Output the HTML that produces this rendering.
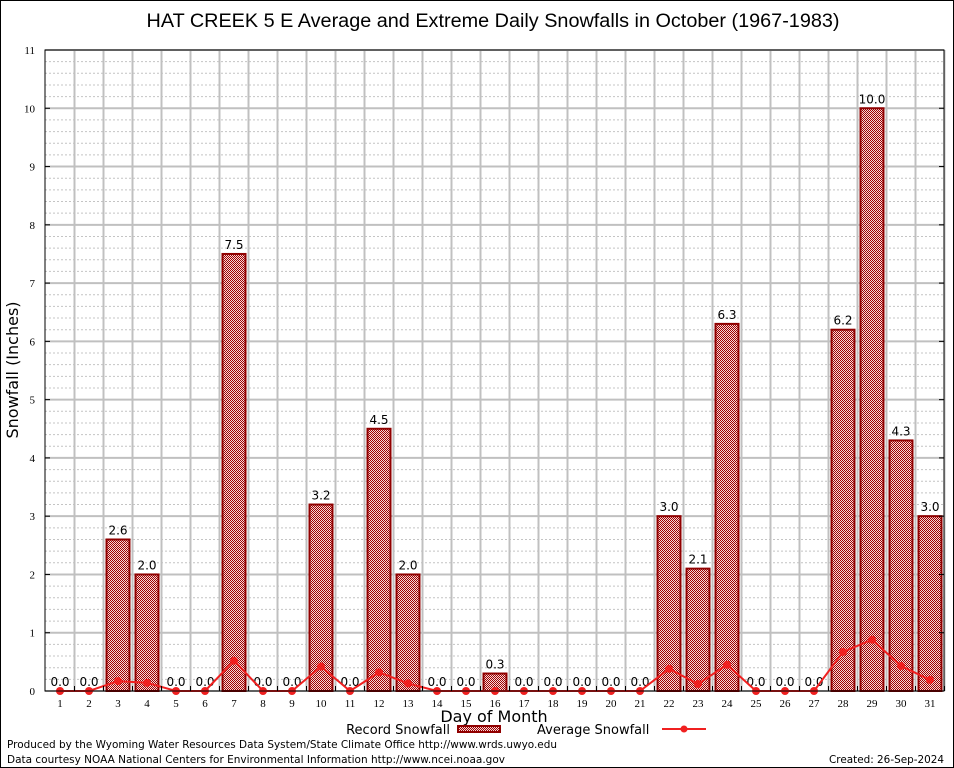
<!DOCTYPE html>
<html><head><meta charset="utf-8"><style>
body{margin:0;background:#fff}
svg{display:block;font-family:"DejaVu Sans","Liberation Sans",sans-serif}
</style></head><body>
<svg id="c" width="954" height="768" viewBox="0 0 954 768">
<defs>
<pattern id="chk" width="2" height="2" patternUnits="userSpaceOnUse">
<rect width="2" height="2" fill="#f4dada"/><rect width="1" height="1" fill="#a00000"/><rect x="1" y="1" width="1" height="1" fill="#a00000"/>
</pattern>
</defs>
<rect x="0.5" y="0.5" width="953" height="767" fill="#fff" stroke="#000"/>
<text x="493" y="27" font-size="19" text-anchor="middle" textLength="693" lengthAdjust="spacingAndGlyphs" font-family="Liberation Sans,sans-serif">HAT CREEK 5 E Average and Extreme Daily Snowfalls in October (1967-1983)</text>
<g id="grid"></g>
<g id="bars"></g>
<g id="line"></g>
<g id="axes"></g>
<text x="18" y="370" font-size="16" text-anchor="middle" transform="rotate(-90 18 370)">Snowfall (Inches)</text>
<text x="494" y="722" font-size="16" text-anchor="middle">Day of Month</text>
<g>
<text x="450" y="734" font-size="13" text-anchor="end">Record Snowfall</text>
<rect x="458" y="726" width="42" height="6" fill="url(#chk)" stroke="#900000" stroke-width="2"/>
</g>
<g>
<text x="537" y="734" font-size="13">Average Snowfall</text>
<line x1="662" y1="729" x2="706" y2="729" stroke="#f02020" stroke-width="2"/>
<circle cx="684" cy="729" r="3.5" fill="#f02020"/>
</g>
<text x="7" y="748" font-size="11" textLength="550" lengthAdjust="spacingAndGlyphs">Produced by the Wyoming Water Resources Data System/State Climate Office http://www.wrds.uwyo.edu</text>
<text x="7" y="763" font-size="11" textLength="498" lengthAdjust="spacingAndGlyphs">Data courtesy NOAA National Centers for Environmental Information http://www.ncei.noaa.gov</text>
<text x="829" y="763" font-size="11" textLength="115" lengthAdjust="spacingAndGlyphs">Created: 26-Sep-2024</text>
</svg>
<script>
const days=[1,2,3,4,5,6,7,8,9,10,11,12,13,14,15,16,17,18,19,20,21,22,23,24,25,26,27,28,29,30,31];
const recordSnow=[0,0,2.6,2.0,0,0,7.5,0,0,3.2,0,4.5,2.0,0,0,0.3,0,0,0,0,0,3.0,2.1,6.3,0,0,0,6.2,10.0,4.3,3.0];
const avgSnow=[0,0,0.17,0.14,0,0,0.52,0,0,0.42,0,0.32,0.13,0,0,0,0,0,0,0,0,0.38,0.12,0.45,0,0,0,0.67,0.88,0.43,0.19];
const yTicks=[0,1,2,3,4,5,6,7,8,9,10,11];
const NS="http://www.w3.org/2000/svg";
const L=45,R=944,T=50,B=691,YMAX=11;
const x=d=>60+(d-1)*29;
const y=v=>B-v*(B-T)/YMAX;
function mk(tag,attrs,parent,txt){const e=document.createElementNS(NS,tag);for(const k in attrs)e.setAttribute(k,attrs[k]);if(txt!==undefined)e.textContent=txt;document.getElementById(parent).appendChild(e);return e;}
for(let v=0;v<YMAX;v+=0.2){if(Math.abs(v-Math.round(v))<1e-6)continue;mk('line',{x1:L,x2:R,y1:y(v),y2:y(v),stroke:'#c4c4c4','stroke-dasharray':'2,2','stroke-width':1},'grid');}
yTicks.forEach(t=>{const g=mk('line',{x1:L,x2:R,y1:y(t),y2:y(t),stroke:'#c0c0c0','stroke-width':2},'grid');


const lb=mk('text',{x:L-10,y:y(t)+4,'font-size':11,'text-anchor':'end','font-family':'Liberation Serif,serif'},'axes',String(t));


mk('line',{x1:L,x2:L+5,y1:y(t),y2:y(t),stroke:'#000'},'axes');mk('line',{x1:R,x2:R-5,y1:y(t),y2:y(t),stroke:'#000'},'axes');});
days.forEach(d=>{mk('line',{x1:x(d)+14.5,x2:x(d)+14.5,y1:T,y2:B,stroke:'#c0c0c0','stroke-width':2},'grid');});
days.forEach((d,i)=>{const v=recordSnow[i];
if(v>0){const r=mk('rect',{x:x(d)-11.5,y:y(v),width:23,height:B-y(v),fill:'url(#chk)',stroke:'#900000','stroke-width':2},'bars');

}
const t=mk('text',{x:x(d),y:y(v)-5,'font-size':12,'text-anchor':'middle'},'bars',v.toFixed(1));


const xl=mk('text',{x:x(d),y:B+16,'font-size':11,'text-anchor':'middle','font-family':'Liberation Serif,serif'},'axes',String(d));


mk('line',{x1:x(d)+14.5,x2:x(d)+14.5,y1:B,y2:B-5,stroke:'#000'},'axes');});
const pts=days.map((d,i)=>x(d)+','+y(avgSnow[i])).join(' ');
const pl=mk('polyline',{points:pts,fill:'none',stroke:'#f02020','stroke-width':2},'line');


days.forEach((d,i)=>{const c=mk('circle',{cx:x(d),cy:y(avgSnow[i]),r:4,fill:'#f02020'},'line');

});
mk('rect',{x:L,y:T,width:R-L,height:B-T,fill:'none',stroke:'#000','stroke-width':1},'axes');
</script>
</body></html>
